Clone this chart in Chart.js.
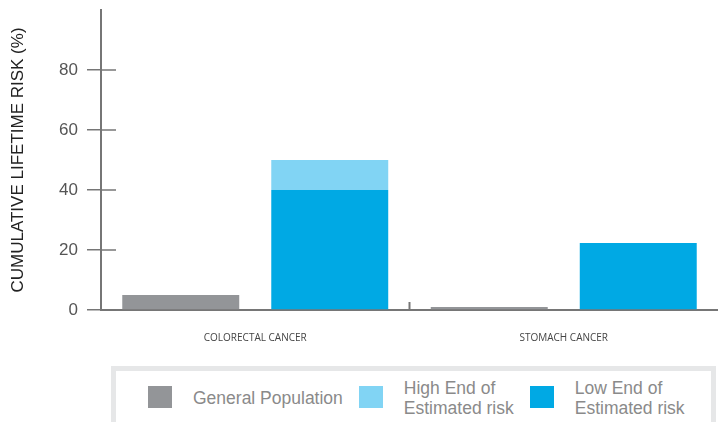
<!DOCTYPE html>
<html>
<head>
<meta charset="utf-8">
<script src="https://cdn.jsdelivr.net/npm/chart.js@4.4.0/dist/chart.umd.min.js"></script>
<style>
  html, body { margin: 0; padding: 0; background: #fff; overflow: hidden; }
  #wrap { position: relative; width: 718px; height: 422px; }
  #grafico { position: absolute; left: 0; top: 0; }
  #leyenda {
    position: absolute; left: 111px; top: 366px; width: 605px; height: 62px;
    box-sizing: border-box; border: 5px solid #e6e7e8; background: #fff;
    display: flex; align-items: center; padding-left: 32px;
    font-family: "Liberation Sans", Arial, sans-serif; font-size: 17.5px; color: #8a8a8a;
  }
  .item { display: flex; align-items: center; margin-right: 16px; }
  .caja { width: 24px; height: 22px; margin-right: 21px; flex: none; }
  .texto { line-height: 20px; margin-top: 2px; }
</style>
</head>
<body>
<div id="wrap">
  <canvas id="grafico" width="718" height="378"></canvas>
  <div id="leyenda"></div>
</div>
<script>
const categorias = ["COLORECTAL CANCER", "STOMACH CANCER"];
const poblacionGeneral = [5, 1];
const extremoBajo = [40, 22.3];
const extremoAlto = [10, 0]; // sobre el extremo bajo
const ticksY = [0, 20, 40, 60, 80];

const GRIS = "#939598";
const CELESTE = "#81d4f4";
const AZUL = "#00a9e4";
const EJE = "#767676";

// marcas cortas hacia dentro del eje y separador entre categorias
const marcasEje = {
  id: "marcasEje",
  afterDraw(chart) {
    const c = chart.ctx;
    const x = chart.scales.x;
    const y = chart.scales.y;
    c.save();
    c.strokeStyle = EJE;
    c.lineWidth = 1.5;
    ticksY.forEach(v => {
      const py = y.getPixelForValue(v);
      c.beginPath();
      c.moveTo(x.left, py);
      c.lineTo(x.left + 15, py);
      c.stroke();
    });
    const sep = (x.getPixelForValue(0) + x.getPixelForValue(1)) / 2;
    const base = y.getPixelForValue(0);
    c.lineWidth = 2;
    c.beginPath();
    c.moveTo(sep, base);
    c.lineTo(sep, base - 8);
    c.stroke();
    c.restore();
  }
};

const grafico = new Chart(document.getElementById("grafico"), {
  type: "bar",
  data: {
    labels: categorias,
    datasets: [
      { label: "General Population", data: poblacionGeneral, backgroundColor: GRIS, stack: "g" },
      { label: "Low End of\nEstimated risk", data: extremoBajo, backgroundColor: AZUL, stack: "r" },
      { label: "High End of\nEstimated risk", data: extremoAlto, backgroundColor: CELESTE, stack: "r" }
    ]
  },
  options: {
    responsive: false,
    animation: false,
    layout: { padding: { top: 10, right: 0, bottom: 12, left: 0 } },
    datasets: {
      bar: { categoryPercentage: 0.966, barPercentage: 0.785, borderWidth: 0 }
    },
    plugins: { legend: { display: false }, tooltip: { enabled: false } },
    scales: {
      x: {
        stacked: true,
        grid: { display: false, drawTicks: false },
        border: { display: true, color: EJE, width: 2 },
        ticks: {
          color: "#444",
          padding: 22,
          font: { family: "'Open Sans', sans-serif", size: 10 }
        }
      },
      y: {
        stacked: true,
        min: 0,
        max: 100,
        afterBuildTicks(scale) { scale.ticks = ticksY.map(v => ({ value: v })); },
        afterFit(scale) {
          scale.width = 101;
          scale.paddingTop = 0;
        },
        title: {
          display: true,
          text: "CUMULATIVE LIFETIME RISK (%)",
          color: "#222",
          padding: { top: 8, bottom: 0 },
          font: { family: "'Liberation Sans', Arial, sans-serif", size: 17 }
        },
        grid: {
          drawOnChartArea: false,
          drawTicks: true,
          tickLength: 14,
          lineWidth: 1.5,
          color: EJE
        },
        border: { display: true, color: EJE, width: 2 },
        ticks: {
          padding: 9,
          color: "#555",
          font: { family: "'Liberation Sans', Arial, sans-serif", size: 17 }
        }
      }
    }
  },
  plugins: [marcasEje]
});

// leyenda en html: General, High, Low
const leyenda = document.getElementById("leyenda");
[0, 2, 1].forEach(i => {
  const ds = grafico.data.datasets[i];
  const item = document.createElement("div");
  item.className = "item";
  const caja = document.createElement("div");
  caja.className = "caja";
  caja.style.background = ds.backgroundColor;
  const texto = document.createElement("div");
  texto.className = "texto";
  texto.innerHTML = ds.label.split("\n").join("<br>");
  item.appendChild(caja);
  item.appendChild(texto);
  leyenda.appendChild(item);
});
</script>
</body>
</html>
